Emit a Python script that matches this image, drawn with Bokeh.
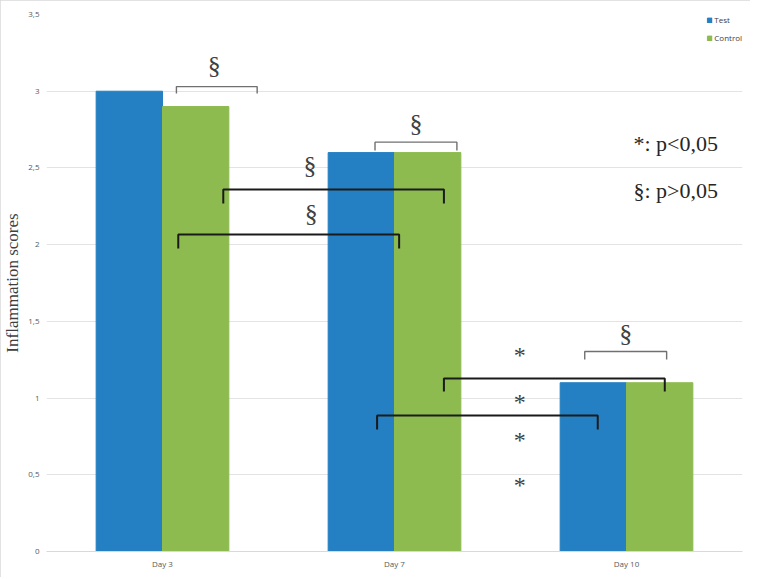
from bokeh.plotting import figure
from bokeh.models import (FactorRange, Range1d, FixedTicker, CustomJSTickFormatter,
                          ColumnDataSource)
from bokeh.transform import dodge
from bokeh.core.properties import value
from bokeh.embed import file_html
from bokeh.resources import INLINE

# ---------------- data ----------------
days = ["Day 3", "Day 7", "Day 10"]
test = [3.0, 2.6, 1.1]
control = [2.9, 2.6, 1.1]
y_ticks = [0, 0.5, 1, 1.5, 2, 2.5, 3, 3.5]

# within-day comparison brackets (x in category units 0..3, y in score units)
pair_x0 = [0.56, 1.416, 2.320]
pair_x1 = [0.908, 1.769, 2.673]
pair_top = [3.03, 2.668, 1.304]
pair_leg = [2.985, 2.614, 1.251]

# across-day comparison brackets
span_x0 = [0.762, 0.568, 1.713, 1.425]
span_x1 = [1.713, 1.52, 2.665, 2.376]
span_top = [2.359, 2.066, 1.128, 0.886]
span_leg = [2.268, 1.975, 1.043, 0.795]

# significance marks
sect_x = [0.723, 1.593, 1.136, 1.141, 2.497]
sect_y = [3.168, 2.790, 2.516, 2.203, 1.421]
star_x = [2.04, 2.04, 2.04, 2.04]
star_y = [1.284, 0.984, 0.736, 0.443]

key_text = ["*: p<0,05", "§: p>0,05"]
key_x = [2.712, 2.712]
key_y = [2.659, 2.353]

BLUE = "#2580C3"
GREEN = "#8DBB4F"

p = figure(x_range=FactorRange(*days), y_range=Range1d(0, 3.5),
           width=750, height=577, output_backend="svg", toolbar_location=None,
           min_border_left=45, min_border_right=8, min_border_top=14,
           min_border_bottom=26)
p.styles = {"outline": "1px solid #d9d9d9", "outline-offset": "-1px"}

src = ColumnDataSource(dict(days=days, test=test, control=control))
p.vbar(x=dodge("days", -0.143, range=p.x_range), top="test", width=0.286,
       source=src, fill_color=BLUE, line_color=BLUE, legend_label="Test")
p.vbar(x=dodge("days", 0.143, range=p.x_range), top="control", width=0.286,
       source=src, fill_color=GREEN, line_color=GREEN, legend_label="Control")

# brackets
p.multi_line(xs=[[a, a, b, b] for a, b in zip(pair_x0, pair_x1)],
             ys=[[l, t, t, l] for t, l in zip(pair_top, pair_leg)],
             line_color="#707070", line_width=1.4)
p.multi_line(xs=[[a, a, b, b] for a, b in zip(span_x0, span_x1)],
             ys=[[l, t, t, l] for t, l in zip(span_top, span_leg)],
             line_color="#1a1a1a", line_width=2)

p.text(x=sect_x, y=sect_y, text=["§"] * len(sect_x),
       text_font=value("Liberation Serif"), text_font_size="26px",
       text_color="#404040", text_align="center", text_baseline="middle")
p.text(x=star_x, y=star_y, text=["*"] * len(star_x),
       text_font=value("Liberation Serif"), text_font_size="24px",
       text_color="#404040", text_align="center", text_baseline="middle",
       y_offset=1)
p.text(x=key_x, y=key_y, text=key_text,
       text_font=value("Liberation Serif"), text_font_size="22px",
       text_color="#262626", text_align="center", text_baseline="middle")

# axes
p.yaxis.ticker = FixedTicker(ticks=y_ticks)
p.yaxis.formatter = CustomJSTickFormatter(code="return tick.toString().replace('.', ',');")
p.yaxis.axis_label = "Inflammation scores"
p.yaxis.axis_label_text_font = "Liberation Serif"
p.yaxis.axis_label_text_font_size = "17px"
p.yaxis.axis_label_text_font_style = "normal"
p.yaxis.axis_label_text_color = "#404040"
p.yaxis.axis_label_standoff = 3
p.yaxis.axis_line_color = None
p.yaxis.major_label_standoff = 1

for ax in (p.xaxis, p.yaxis):
    ax.major_tick_line_color = None
    ax.minor_tick_line_color = None
    ax.major_label_text_font = "Open Sans"
    ax.major_label_text_font_size = "8px"
    ax.major_label_text_color = "#595959"

p.xaxis.axis_line_color = "#d9d9d9"
p.xaxis.major_label_standoff = 0

p.xgrid.grid_line_color = None
p.ygrid.grid_line_color = "#e3e3e3"
p.outline_line_color = None

lg = p.legend[0]
lg.location = "top_right"
lg.margin = 0
lg.padding = 0
lg.spacing = 7
lg.glyph_width = 6
lg.glyph_height = 6
lg.label_height = 10
lg.label_standoff = 2
lg.label_text_font = "Open Sans"
lg.label_text_font_size = "8px"
lg.label_text_color = "#404040"
lg.background_fill_alpha = 0
lg.border_line_alpha = 0

open("out.html", "w").write(file_html(p, INLINE))
